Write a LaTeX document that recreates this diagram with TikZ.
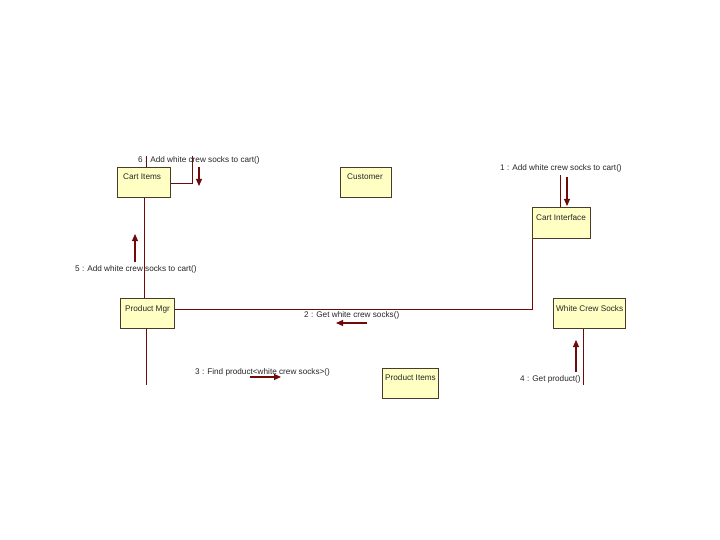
\documentclass[tikz,border=0pt]{standalone}
\usepackage{fontspec}
\setmainfont{Liberation Sans}
\usetikzlibrary{arrows.meta}
\definecolor{ln}{HTML}{6E0A0A}
\definecolor{bx}{HTML}{FFFFC4}
\definecolor{bd}{HTML}{4A3A2A}
\tikzset{
  obj/.style={draw=bd, line width=0.8pt, fill=bx, anchor=north west, inner sep=0pt},
  objtxt/.style={anchor=west, inner sep=0pt, font=\fontsize{8.2}{9}\selectfont, text=black!85},
  msg/.style={font=\fontsize{8.2}{9}\selectfont, text=black!85, inner sep=0pt, anchor=west},
  link/.style={draw=ln, line width=0.8pt},
  arr/.style={draw=ln, line width=1.1pt, -{Triangle[length=7pt,width=6pt]}}
}
\begin{document}
\begin{tikzpicture}[x=1pt,y=-1pt]
\useasboundingbox (0,0) rectangle (720,540);
% objects
\node[obj, minimum width=53pt, minimum height=30pt] (citems) at (117,167) {};
\node[objtxt] (citemsT) at (123,177) {Cart Items};
\node[obj, minimum width=51pt, minimum height=30pt] (cust) at (340,167) {};
\node[objtxt] (custT) at (347,177) {Customer};
\node[obj, minimum width=58pt, minimum height=31pt] (cint) at (532,207) {};
\node[objtxt] (cintT) at (536,218) {Cart Interface};
\node[obj, minimum width=54pt, minimum height=30pt] (pm) at (120,298) {};
\node[objtxt] (pmT) at (125,309) {Product Mgr};
\node[obj, minimum width=72pt, minimum height=30pt] (wcs) at (553,298) {};
\node[objtxt] (wcsT) at (556,309) {White Crew Socks};
\node[obj, minimum width=56pt, minimum height=30pt] (pi) at (382,368) {};
\node[objtxt] (piT) at (385,378) {Product Items};
% free ends
\coordinate (loopA) at (146,156);
\coordinate (loopB) at (192,156);
\coordinate (ciTop) at (560,175);
\coordinate (pmEnd) at (146,385);
\coordinate (wcsEnd) at (583,385);
% links
\draw[link] (loopA) -- (loopA |- citems.north);
\draw[link] (loopB) |- (citems.east |- 0,183);
\draw[link] (citems.south) -- (citems.south |- pm.north);
\draw[link] (pm.east |- 0,309) -| (cint.south west);
\draw[link] (ciTop) -- (ciTop |- cint.north);
\draw[link] (pmEnd |- pm.south) -- (pmEnd);
\draw[link] (wcsEnd |- wcs.south) -- (wcsEnd);
% message arrows
\coordinate (a6s) at (199,167); \coordinate (a6e) at (199,186);
\draw[arr] (a6s) -- (a6e);
\coordinate (a1s) at (567,177); \coordinate (a1e) at (567,206);
\draw[arr] (a1s) -- (a1e);
\coordinate (a5s) at (135,262); \coordinate (a5e) at (135,234);
\draw[arr] (a5s) -- (a5e);
\coordinate (a2s) at (367,323); \coordinate (a2e) at (336,323);
\draw[arr] (a2s) -- (a2e);
\coordinate (a3s) at (250,377); \coordinate (a3e) at (281,377);
\draw[arr] (a3s) -- (a3e);
\coordinate (a4s) at (576,372); \coordinate (a4e) at (576,340);
\draw[arr] (a4s) -- (a4e);
% labels
\node[msg] (m6) at (138,160) {6 : Add white crew socks to cart()};
\node[msg] (m1) at (500,168) {1 : Add white crew socks to cart()};
\node[msg] (m5) at (75,269) {5 : Add white crew socks to cart()};
\node[msg] (m2) at (304,315) {2 : Get white crew socks()};
\node[msg] (m3) at (195,372) {3 : Find product<white crew socks>()};
\node[msg] (m4) at (520,379) {4 : Get product()};
\end{tikzpicture}
\end{document}
